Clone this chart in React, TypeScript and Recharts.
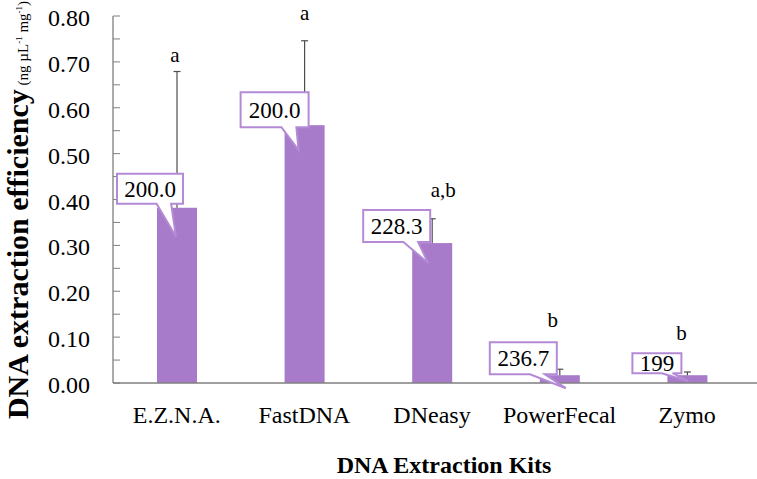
import { BarChart, Bar, XAxis, YAxis, LabelList, Label } from 'recharts';

const kits = ['E.Z.N.A.', 'FastDNA', 'DNeasy', 'PowerFecal', 'Zymo'];
const efficiency = [0.382, 0.562, 0.305, 0.017, 0.017];
const errorSd = [0.297, 0.184, 0.053, 0.013, 0.007];
const groupLetters = ['a', 'a', 'a,b', 'b', 'b'];
const letterLevel = [0.7, 0.791, 0.405, 0.122, 0.094];
const calloutText = ['200.0', '200.0', '228.3', '236.7', '199'];
const yTicks = [0, 0.05, 0.1, 0.15, 0.2, 0.25, 0.3, 0.35, 0.4, 0.45, 0.5, 0.55, 0.6, 0.65, 0.7, 0.75, 0.8];

const data = kits.map((kit, i) => ({
  kit,
  value: efficiency[i],
  sd: errorSd[i],
  letter: groupLetters[i],
  letterAt: letterLevel[i],
  n: calloutText[i],
}));

// hand-placed callout boxes, relative to bar centre / bar top (px)
const calloutBox = [
  { l: -60, r: 6, t: -34, b: -4, tx: -1, ty: 29 },
  { l: -64, r: 4, t: -33, b: 2, tx: -6, ty: 25 },
  { l: -69, r: -2, t: -33, b: -1, tx: -4, ty: 20 },
  { l: -70, r: -3, t: -33, b: -1, tx: 6, ty: 13 },
  { l: -55, r: -6, t: -22, b: -2, tx: 1, ty: 6 },
];
const letterDx = [-2, 0, 11, -7, -6];

const serif = { fontFamily: 'Liberation Serif' };
const PURPLE = '#a77bc9';
const CALLOUT = '#b48ad6';
const AXIS = '#7f7f7f';

const BarWithError = (props: any) => {
  const { x, y, width, height, payload, index } = props;
  const perUnit = height / payload.value;
  const cx = x + width / 2;
  const errY = y - payload.sd * perUnit;
  const base = y + height;
  const letterY = base - payload.letterAt * perUnit;
  return (
    <g>
      <rect x={x} y={y} width={width} height={height} fill={PURPLE} />
      <line x1={cx} y1={y} x2={cx} y2={errY} stroke="#4d4d4d" strokeWidth={1.2} />
      <line x1={cx - 3.5} y1={errY} x2={cx + 3.5} y2={errY} stroke="#4d4d4d" strokeWidth={1.2} />
      <text x={cx + letterDx[index]} y={letterY} textAnchor="middle" fontSize={21} style={serif} fill="#000">
        {payload.letter}
      </text>
    </g>
  );
};

const Callout = (props: any) => {
  const vb = props.viewBox || props;
  const { x, y, width } = vb;
  const c = calloutBox[props.index];
  const cx = x + width / 2;
  const L = cx + c.l;
  const R = cx + c.r;
  const T = y + c.t;
  const B = y + c.b;
  const w = R - L;
  const path = `M${L},${T} H${R} V${B} H${L + 0.82 * w} L${cx + c.tx},${y + c.ty} L${L + 0.6 * w},${B} H${L} Z`;
  return (
    <g>
      <path d={path} fill="#fff" stroke={CALLOUT} strokeWidth={2} />
      <text x={(L + R) / 2} y={(T + B) / 2 + 8} textAnchor="middle" fontSize={23} style={serif} fill="#000">
        {props.value}
      </text>
    </g>
  );
};

const YTick = ({ x, y, payload }: any) => {
  const v = payload.value;
  const major = Math.round(v * 100) % 10 === 0;
  return (
    <g>
      <line x1={x} y1={y} x2={x + 7} y2={y} stroke={AXIS} strokeWidth={1} />
      {major && (
        <text x={x - 23} y={y + 10} textAnchor="end" fontSize={24} style={serif} fill="#000">
          {v.toFixed(2)}
        </text>
      )}
    </g>
  );
};

const XTick = ({ x, y, payload }: any) => (
  <text x={x} y={y + 40} textAnchor="middle" fontSize={24} style={serif} fill="#000">
    {payload.value}
  </text>
);

const YTitle = () => (
  <text transform="translate(28,210) rotate(-90)" textAnchor="middle" style={serif} fill="#000">
    <tspan fontSize={30} fontWeight="bold">DNA extraction efficiency</tspan>
    <tspan fontSize={15}> (ng µL</tspan>
    <tspan fontSize={9} dy={-6}>-1</tspan>
    <tspan fontSize={15} dy={6}> mg</tspan>
    <tspan fontSize={9} dy={-6}>-1</tspan>
    <tspan fontSize={15} dy={6}>)</tspan>
  </text>
);

const XTitle = (props: any) => {
  const vb = props.viewBox;
  return (
    <text x={vb.x + vb.width / 2 + 9} y={473} textAnchor="middle" fontSize={24} fontWeight="bold" style={serif} fill="#000">
      DNA Extraction Kits
    </text>
  );
};

export default function App() {
  return (
    <div style={{ position: 'fixed', left: 0, top: 0, background: '#fff' }}>
      <BarChart width={757} height={479} data={data} margin={{ top: 16, right: 0, bottom: 0, left: 0 }}>
        <XAxis
          dataKey="kit"
          height={96}
          tickLine={false}
          tickSize={0}
          tickMargin={0}
          axisLine={{ stroke: AXIS, strokeWidth: 1.3 }}
          tick={<XTick />}
          padding={{ left: 0, right: 6 }}
          interval={0}
        >
          <Label content={<XTitle />} />
        </XAxis>
        <YAxis
          width={113}
          domain={[0, 0.8]}
          ticks={yTicks}
          interval={0}
          tickLine={false}
          tickSize={0}
          tickMargin={0}
          axisLine={{ stroke: AXIS, strokeWidth: 1.3 }}
          tick={<YTick />}
        >
          <Label content={<YTitle />} />
        </YAxis>
        <Bar dataKey="value" barSize={40} shape={<BarWithError />} isAnimationActive={false}>
          <LabelList dataKey="n" content={<Callout />} />
        </Bar>
      </BarChart>
    </div>
  );
}
